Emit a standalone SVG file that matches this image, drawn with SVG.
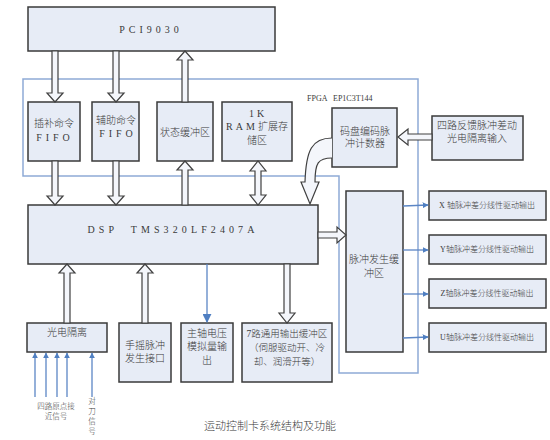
<svg xmlns="http://www.w3.org/2000/svg" width="550" height="440" viewBox="0 0 550 440">
<defs>
<style>
.box{fill:#e7ecf6;stroke:#3a3a3a;stroke-width:1.5}
.fat{fill:#f4f6fb;stroke:#404040;stroke-width:1.2;stroke-linejoin:miter}
.blue{fill:none;stroke:#5b86c5;stroke-width:1.3}
.fpga{fill:none;stroke:#8eaad6;stroke-width:1.5}
.t{font-family:"Liberation Serif","Noto Sans CJK SC",serif;font-size:10px;font-weight:300;fill:#3a3a3a;text-anchor:middle;white-space:pre}
.s{font-size:8px}
.xs{font-size:7.5px}
</style>
<marker id="ba" viewBox="0 0 10 10" refX="9" refY="5" markerWidth="6" markerHeight="6" orient="auto" markerUnits="userSpaceOnUse">
<path d="M0,0 L10,5 L0,10 Z" fill="#4f7fc2"/>
</marker>
<marker id="bb" viewBox="0 0 10 10" refX="9" refY="5" markerWidth="9" markerHeight="9" orient="auto" markerUnits="userSpaceOnUse">
<path d="M0,0 L10,5 L0,10 Z" fill="#4f7fc2"/>
</marker>
</defs>
<rect width="550" height="440" fill="#fff"/>

<path class="fpga" d="M23,79 H418 V373 H339 V176 H23 Z"/>
<text class="t s" x="307" y="101" style="text-anchor:start" xml:space="preserve">FPGA   EP1C3T144</text>

<g id="pci"><rect class="box" x="28" y="7" width="247" height="44"/><text class="t" x="151" y="33" letter-spacing="4">PCI9030</text></g>
<g id="fifo1"><rect class="box" x="28" y="102" width="52" height="59"/><text class="t" x="54" y="127">插补命令</text><text class="t" x="55" y="141" letter-spacing="4">FIFO</text></g>
<g id="fifo2"><rect class="box" x="92" y="102" width="47" height="59"/><text class="t" x="116" y="124">辅助命令</text><text class="t" x="118" y="137" letter-spacing="4">FIFO</text></g>
<g id="status"><rect class="box" x="157" y="102" width="56" height="59"/><text class="t" x="185" y="136">状态缓冲区</text></g>
<g id="ram"><rect class="box" x="222" y="102" width="70" height="59"/><text class="t" x="258" y="117" letter-spacing="3">1K</text><text class="t" x="257" y="130"><tspan letter-spacing="3">RAM</tspan>扩展存</text><text class="t" x="257" y="144">储区</text></g>
<g id="encoder"><rect class="box" x="332" y="108" width="65" height="59"/><text class="t" x="365" y="135">码盘编码脉</text><text class="t" x="365" y="147">冲计数器</text></g>
<g id="feedback"><rect class="box" x="432" y="116" width="91" height="44"/><text class="t" x="477" y="129">四路反馈脉冲差动</text><text class="t" x="477" y="142">光电隔离输入</text></g>
<g id="dsp"><rect class="box" x="28" y="205" width="290" height="59"/><text class="t" x="173" y="233" letter-spacing="4.1" xml:space="preserve">DSP  TMS320LF2407A</text></g>
<g id="pulse"><rect class="box" x="346" y="191" width="57" height="161"/><text class="t" x="374" y="263">脉冲发生缓</text><text class="t" x="374" y="277">冲区</text></g>
<g id="outx"><rect class="box" x="429" y="191" width="117" height="29"/><text class="t s" x="487" y="208">X 轴脉冲差分线性驱动输出</text></g>
<g id="outy"><rect class="box" x="429" y="235" width="117" height="29"/><text class="t s" x="487" y="252">Y轴脉冲差分线性驱动输出</text></g>
<g id="outz"><rect class="box" x="429" y="279" width="117" height="29"/><text class="t s" x="487" y="296">Z轴脉冲差分线性驱动输出</text></g>
<g id="outu"><rect class="box" x="429" y="323" width="117" height="29"/><text class="t s" x="487" y="340">U轴脉冲差分线性驱动输出</text></g>
<g id="iso"><rect class="box" x="27" y="323" width="80" height="29"/><text class="t" x="67" y="336">光电隔离</text></g>
<g id="handwheel"><rect class="box" x="119" y="323" width="52" height="59"/><text class="t" x="145" y="349">手摇脉冲</text><text class="t" x="145" y="362">发生接口</text></g>
<g id="spindle"><rect class="box" x="181" y="323" width="52" height="59"/><text class="t" x="207" y="337">主轴电压</text><text class="t" x="207" y="350">模拟量输</text><text class="t" x="207" y="364">出</text></g>
<g id="gpo"><rect class="box" x="242" y="323" width="90" height="59"/><text class="t" x="287" y="337" style="font-size:9.5px">7路通用输出缓冲区</text><text class="t" x="287" y="351" style="font-size:9.5px">（伺服驱动开、冷</text><text class="t" x="287" y="365" style="font-size:9.5px">却、润滑开等）</text></g>

<g id="connectors">
<path class="fat" d="M52,51 V93 H47 L55,102 L63,93 H58 V51 Z"/>
<path class="fat" d="M113,51 V93 H108 L116,102 L124,93 H119 V51 Z"/>
<path class="fat" d="M182,102 V60 H177 L185,51 L193,60 H188 V102 Z"/>
<path class="fat" d="M52,161 V196 H47 L55,205 L63,196 H58 V161 Z"/>
<path class="fat" d="M113,161 V196 H108 L116,205 L124,196 H119 V161 Z"/>
<path class="fat" d="M182,205 V170 H177 L185,161 L193,170 H188 V205 Z"/>
<path class="fat" d="M255,171 H250 L258,161 L266,171 H261 V195 H266 L258,205 L250,195 H255 Z"/>
<path class="fat" d="M318,232 H337 V227 L346,235 L337,243 V238 H318 Z"/>
<path class="fat" d="M432,134 H408 V129 L398,137 L408,145 V140 H432 Z"/>
<path class="fat" d="M332,138 C312,138 306,150 305,182 H301 L310,204 L319,182 H315 C315,163 318,158 332,158"/>
<path class="fat" d="M64,323 V273 H59 L67,264 L75,273 H70 V323 Z"/>
<path class="fat" d="M142,323 V273 H137 L145,264 L153,273 H148 V323 Z"/>
<path class="fat" d="M284,264 V313 H279 L287,323 L295,313 H290 V264 Z"/>
<line class="blue" x1="207" y1="264" x2="207" y2="322" marker-end="url(#bb)"/>
<line class="blue" x1="403" y1="206" x2="428" y2="205" marker-end="url(#ba)"/>
<line class="blue" x1="403" y1="250" x2="428" y2="250" marker-end="url(#ba)"/>
<line class="blue" x1="403" y1="294" x2="428" y2="294" marker-end="url(#ba)"/>
<line class="blue" x1="403" y1="338" x2="428" y2="337" marker-end="url(#ba)"/>
<line class="blue" x1="35" y1="397" x2="35" y2="353" marker-end="url(#ba)"/>
<line class="blue" x1="46" y1="397" x2="46" y2="353" marker-end="url(#ba)"/>
<line class="blue" x1="57" y1="397" x2="57" y2="353" marker-end="url(#ba)"/>
<line class="blue" x1="67" y1="397" x2="67" y2="353" marker-end="url(#ba)"/>
<line class="blue" x1="92" y1="397" x2="92" y2="353" marker-end="url(#ba)"/>
</g>

<text class="t xs" x="56" y="409">四路原点接</text>
<text class="t xs" x="56" y="419">近信号</text>
<text class="t xs" x="92" y="404">对</text>
<text class="t xs" x="92" y="414">刀</text>
<text class="t xs" x="92" y="424">信</text>
<text class="t xs" x="92" y="434">号</text>
<text class="t" x="270" y="430" style="font-size:11px">运动控制卡系统结构及功能</text>
</svg>
